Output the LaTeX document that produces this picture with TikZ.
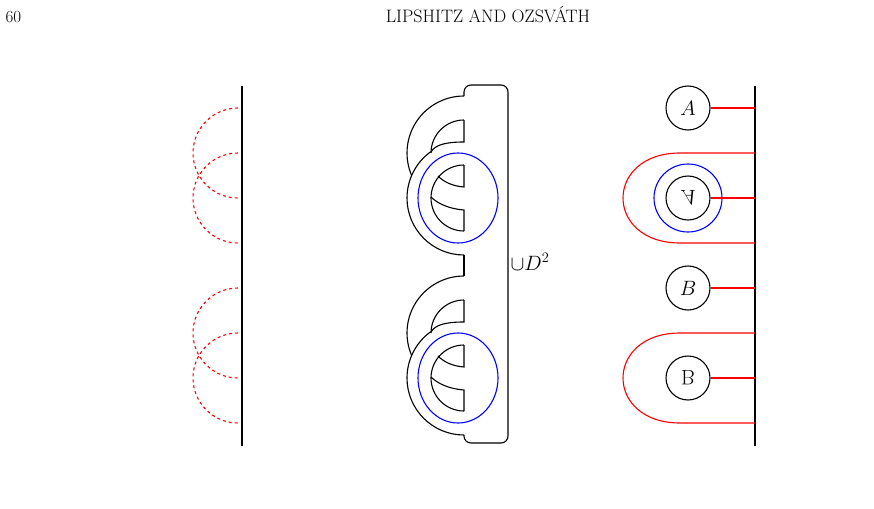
\documentclass[tikz,border=0pt]{standalone}
\begin{document}
\begin{tikzpicture}[x=1pt,y=-1pt,line width=1.1pt,
  reddash/.style={red,dashed,line width=1.1pt},
  lbl/.style={circle,draw,black,minimum size=44pt,inner sep=0pt,font=\fontsize{21}{21}\selectfont},
  rl/.style={red,line width=1.1pt}]
\useasboundingbox (0,0) rectangle (874,508);
\node[anchor=base west,inner sep=0pt,font=\fontsize{17}{17}\selectfont] (pg) at (5,23) {60};
\node[anchor=base,inner sep=0pt,font=\fontsize{18}{18}\selectfont] (hd) at (488,23) {LIPSHITZ AND OZSV\'ATH};
% left
\coordinate (lt) at (242,86); \coordinate (lb) at (242,446);
\draw (lt) -- (lb);
\foreach \y in {108,153,288,333}{
  \draw[reddash] (238,\y) arc[start angle=-90,end angle=-270,radius=45];
}
% middle
\foreach \d in {0,180}{
\begin{scope}[yshift=-\d]
 \draw (464,96) arc[start angle=-90,end angle=-203.3,radius=57];
 \draw (464,255) arc[start angle=90,end angle=234.3,radius=57];
 \draw (464,120) arc[start angle=-90,end angle=-180,radius=33];
 \draw (464,120) -- (464,142) .. controls (445,142) and (435,145) .. (431,152);
 \draw (464,165) arc[start angle=-90,end angle=-270,radius=33];
 \draw (464,165) -- (464,187) .. controls (452,186) and (444,182) .. (438,176);
 \draw (464,231) -- (464,210) .. controls (450,209) and (438,204) .. (431,197);
 \draw[blue] (458,198) ellipse[x radius=40,y radius=45];
\end{scope}}
\draw (464,255) -- (464,276);
\draw[rounded corners=7pt] (464,96) -- (464,85) -- (508,85) -- (508,443) -- (464,443) -- (464,435);
\node[anchor=west,inner sep=1pt,font=\fontsize{21}{21}\selectfont] (d2) at (509,262) {$\cup D^2$};
% right
\coordinate (rt) at (755,86); \coordinate (rb) at (755,446);
\draw (rt) -- (rb);
\draw[rl] (755,153) -- (680,153) .. controls (604,153) and (604,243) .. (680,243) -- (755,243);
\draw[rl] (755,333) -- (680,333) .. controls (604,333) and (604,423) .. (680,423) -- (755,423);
\draw[blue] (688,198) circle[radius=34];
\node[lbl] (a1) at (688,108) {$A$};
\node[lbl] (a2) at (688,198) {\scalebox{1}[-1]{$A$}};
\node[lbl] (b1) at (688,288) {$B$};
\node[lbl] (b2) at (688,378) {\scalebox{1}[-1]{B}};
\foreach \n/\y in {a1/108,a2/198,b1/288,b2/378}{ \draw[rl] (\n.east) -- (755,\y); }
\end{tikzpicture}
\end{document}
